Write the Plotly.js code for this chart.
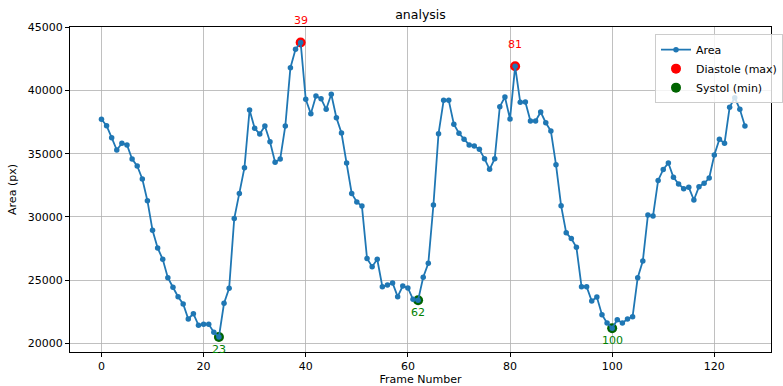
<!DOCTYPE html>
<html>
<head>
<meta charset="utf-8">
<script src="https://cdn.plot.ly/plotly-3.0.1.min.js"></script>
<style>html,body{margin:0;padding:0;background:#fff;}#chart{width:783px;height:386px;}</style>
</head>
<body>
<div id="chart"></div>
<script>
const frames = Array.from({length: 127}, (_, i) => i);
const area = [
  37718, 37213, 36263, 35290, 35820, 35686, 34578, 34025, 32996, 31280,
  28938, 27538, 26644, 25189, 24430, 23686, 23109, 21922, 22341, 21424,
  21503, 21503, 20870, 20498, 23164, 24350, 29870, 31850, 33890, 38454,
  37007, 36556, 37188, 35947, 34317, 34578, 37188, 41800, 43255, 43800,
  39300, 38161, 39561, 39348, 38509, 39696, 37850, 36635, 34260, 31850,
  31177, 30850, 26710, 26059, 26644, 24477, 24612, 24770, 23686, 24532,
  24374, 23480, 23401, 25221, 26328, 30940, 36579, 39220, 39220, 37335,
  36611, 36136, 35690, 35606, 35345, 34602, 33763, 34602, 38715, 39482,
  37742, 41911, 39063, 39090, 37584, 37584, 38296, 37449, 36793, 34127,
  30884, 28740, 28280, 27594, 24477, 24477, 23346, 23662, 22262, 21606,
  21187, 21867, 21606, 21922, 22104, 25189, 26510, 30150, 30069, 32880,
  33750, 34260, 33131, 32601, 32229, 32340, 31335, 32387, 32656, 33075,
  34894, 36136, 35820, 38668, 39427, 38509, 37188
];
const maxIdx = [39, 81];
const minIdx = [23, 62, 100];
const xTicks = [0, 20, 40, 60, 80, 100, 120];
const yTicks = [20000, 25000, 30000, 35000, 40000, 45000];

const font = 'DejaVu Sans, sans-serif';
const traces = [
  {x: maxIdx, y: maxIdx.map(i => area[i]), type: 'scatter', mode: 'markers', name: 'Diastole (max)',
   legendrank: 2, marker: {color: 'red', size: 10}},
  {x: minIdx, y: minIdx.map(i => area[i]), type: 'scatter', mode: 'markers', name: 'Systol (min)',
   legendrank: 3, marker: {color: 'darkgreen', size: 10}},
  {x: frames, y: area, type: 'scatter', mode: 'lines+markers', name: 'Area', legendrank: 1,
   line: {color: '#1f77b4', width: 1.8}, marker: {color: '#1f77b4', size: 5.5}}
];
const annotations = [];
maxIdx.forEach(i => annotations.push({x: i, y: area[i], text: String(i), showarrow: false,
  yshift: 22, font: {family: font, size: 11, color: 'red'}}));
minIdx.forEach(i => annotations.push({x: i, y: area[i], text: String(i), showarrow: false,
  yshift: -12.5, font: {family: font, size: 11, color: 'green'}}));

const axisCommon = {
  showline: true, linecolor: '#000', linewidth: 1, mirror: true,
  ticks: 'outside', ticklen: 4, tickcolor: '#000', tickwidth: 1,
  showgrid: true, gridcolor: '#b0b0b0', gridwidth: 0.8, zeroline: false,
  tickfont: {family: font, size: 11, color: '#000'}
};
const layout = {
  width: 783, height: 386,
  margin: {l: 70, r: 0, t: 27, b: 34},
  paper_bgcolor: '#fff', plot_bgcolor: '#fff',
  title: {text: 'analysis', x: 0.5, xref: 'paper', y: 0.962, yref: 'container', yanchor: 'middle',
          font: {family: font, size: 12.5, color: '#000'}},
  xaxis: Object.assign({}, axisCommon, {range: [-6.16, 131.1], tickvals: xTicks,
          title: {text: 'Frame Number', standoff: 4, font: {family: font, size: 11, color: '#000'}}}),
  yaxis: Object.assign({}, axisCommon, {range: [19310, 45020], tickvals: yTicks, tickformat: 'd',
          title: {text: 'Area (px)', standoff: 8, font: {family: font, size: 11, color: '#000'}}}),
  showlegend: true,
  legend: {x: 0.835, y: 0.978, xanchor: 'left', yanchor: 'top', bgcolor: 'rgba(255,255,255,0.8)',
           bordercolor: '#cccccc', borderwidth: 1, font: {family: font, size: 11, color: '#000'},
           tracegroupgap: 0, itemwidth: 30},
  annotations: annotations
};
Plotly.newPlot('chart', traces, layout, {staticPlot: true, displayModeBar: false});
</script>
</body>
</html>
